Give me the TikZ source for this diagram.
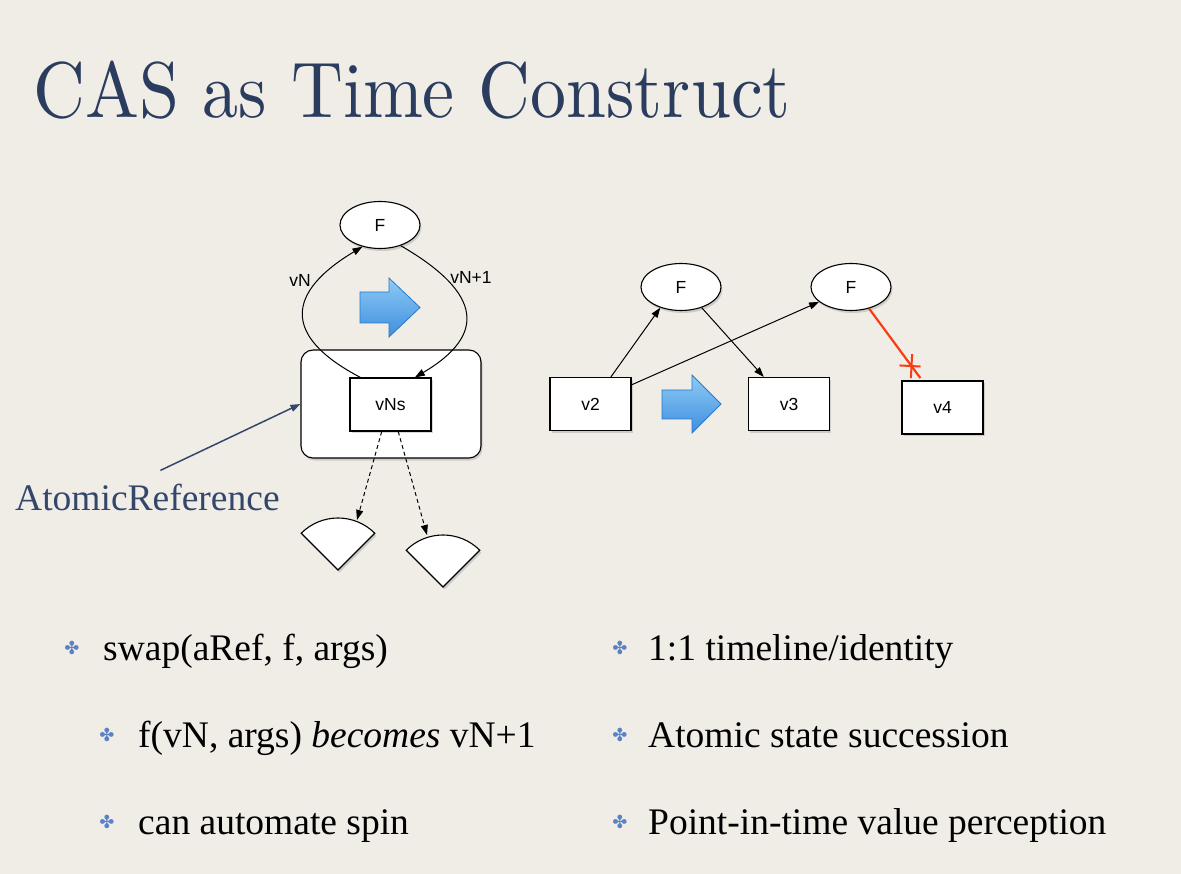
\documentclass[tikz,border=0pt]{standalone}
\usepackage{fontspec}
\usepackage{graphicx}
\usepackage{tikz}
\usetikzlibrary{arrows.meta,shapes.geometric,shapes.misc,shadows}
\newfontfamily\titlefont{lmroman10-regular.otf}
\newfontfamily\bodyfont{Liberation Serif}
\newfontfamily\diagfont{Liberation Sans}
\newfontfamily\symfont{DejaVu Sans}
\definecolor{paper}{RGB}{240,237,231}
\definecolor{navy}{RGB}{43,61,94}
\definecolor{refblue}{RGB}{52,71,107}
\definecolor{flower}{RGB}{90,131,198}
\definecolor{cutred}{RGB}{250,60,20}
\definecolor{arrowtop}{RGB}{142,202,245}
\definecolor{arrowbot}{RGB}{62,143,222}
\definecolor{arrowrim}{RGB}{40,120,205}

\begin{document}
\begin{tikzpicture}[x=1pt,y=-1pt,
		shade/.style={drop shadow={opacity=.3,shadow xshift=1.5pt,shadow yshift=-2.5pt}},
		diag/.style={font=\diagfont\fontsize{17.5}{19}\selectfont},
		box/.style={draw,fill=white,line width=1.1pt,minimum width=81pt,minimum height=53pt,diag,shade},
		fn/.style={ellipse,draw,fill=white,line width=1.1pt,minimum width=80pt,minimum height=47pt,diag,shade},
		conn/.style={line width=1pt,-{Triangle[length=10pt,width=7pt]}},
		bluearrow/.style={draw=arrowrim,line width=.8pt,top color=arrowtop,bottom color=arrowbot},
		cutline/.style={draw=cutred,line width=2.2pt,shorten >=3pt},
		crossmark/.style={cross out,draw=cutred,line width=2pt,minimum size=15pt,inner sep=0pt,rotate=42},
		bullet/.style={text=flower,font=\symfont\fontsize{18}{18}\selectfont,inner sep=0pt},
		item/.style={anchor=base west,inner sep=0pt,font=\bodyfont\fontsize{37.5}{40}\selectfont}]
		\useasboundingbox[fill=paper] (0,0) rectangle (1181,874);
		\node[anchor=base west,inner sep=0pt,text=navy,font=\titlefont\fontsize{79}{79}\selectfont] (title) at (33,118) {\scalebox{0.91}[1]{CAS as Time Construct}};
		
		\node[draw,fill=white,line width=1.1pt,rounded corners=12pt,minimum width=180pt,minimum height=108pt,shade] (aref) at (391,404) {};
		\node[box] (vNs) at (390.5,404.5) {vNs};
		\node[fn] (F) at (380,225) {F};
		\node[diag] (lvN) at (300,280) {vN};
		\node[diag] (lvN1) at (471,277) {vN+1};
		\draw[conn] (vNs.138) .. controls +(-80,-42) and +(-75,45) .. (F.231);
		\draw[conn] (F.-45) .. controls +(83,48) and +(71,-42) .. (vNs.48);
		\draw[bluearrow] (360,292) -- (389,292) -- (389,278) -- (420,307.5) -- (389,337) -- (389,323) -- (360,323) -- cycle;
		
		\coordinate (fanA) at (338,570);
		\coordinate (fanB) at (443,587);
		\coordinate (fanAtop) at (357,520);
		\coordinate (fanBtop) at (427,535);
		\draw[fill=white,line width=1.1pt,shade] (fanA) -- ++(225:52) arc[start angle=225,end angle=315,radius=52] -- cycle;
		\draw[fill=white,line width=1.1pt,shade] (fanB) -- ++(225:52) arc[start angle=225,end angle=315,radius=52] -- cycle;
		\draw[conn,dashed,dash pattern=on 4pt off 3pt] (vNs.-108) -- (fanAtop);
		\draw[conn,dashed,dash pattern=on 4pt off 3pt] (vNs.-74) -- (fanBtop);
		
		\node[anchor=base west,inner sep=0pt,text=refblue,font=\bodyfont\fontsize{37.5}{40}\selectfont] (atomref) at (15,510) {AtomicReference};
		\draw[draw=refblue,line width=1.5pt,-{Triangle[length=10pt,width=7pt]}] ([xshift=13pt,yshift=13pt]atomref.north) -- (aref.west);
		
		\node[fn] (F1) at (681,287) {F};
		\node[fn] (F2) at (851,287) {F};
		\node[box] (v2) at (590.5,404) {v2};
		\node[box] (v3) at (789,404) {v3};
		\node[box] (v4) at (942.5,407.5) {v4};
		\draw[conn] (v2.53) -- (F1.225);
		\draw[conn] (F1.-45) -- (v3.133);
		\draw[conn] (v2.25) -- (F2.205);
		\draw[cutline] (F2.-50) -- (v4.127) node[pos=0.8,crossmark] {};
		\draw[bluearrow] (662,390) -- (692,390) -- (692,375) -- (721,404) -- (692,433) -- (692,419) -- (662,419) -- cycle;
		
		\node[bullet] (b1) at (72,648) {✤};
		\node[item] (t1) at (103,660) {swap(aRef, f, args)};
		\node[bullet] (b2) at (107,735) {✤};
		\node[item] (t2) at (138,747) {f(vN, args) \textit{becomes} vN+1};
		\node[bullet] (b3) at (107,822) {✤};
		\node[item] (t3) at (138,834) {can automate spin};
		\node[bullet] (b4) at (620,648) {✤};
		\node[item] (t4) at (648,660) {1:1 timeline/identity};
		\node[bullet] (b5) at (620,735) {✤};
		\node[item] (t5) at (648,747) {Atomic state succession};
		\node[bullet] (b6) at (620,822) {✤};
		\node[item] (t6) at (648,834) {Point-in-time value perception};
\end{tikzpicture}
\end{document}
